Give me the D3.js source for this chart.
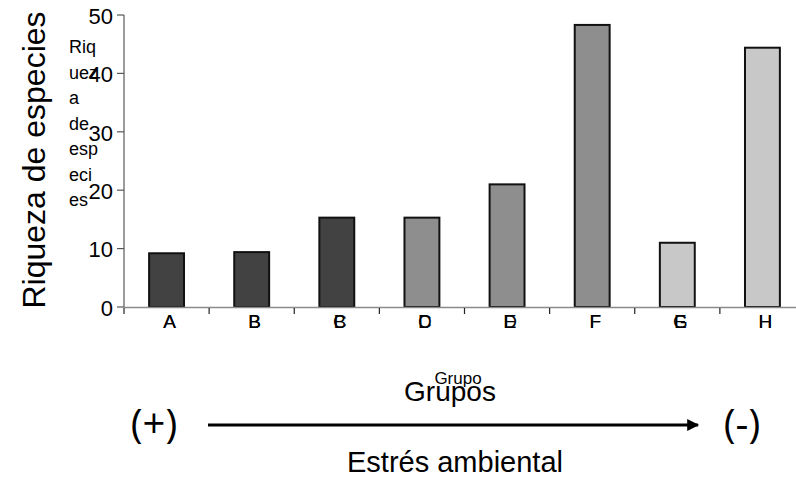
<!DOCTYPE html>
<html>
<head>
<meta charset="utf-8">
<script src="https://cdn.jsdelivr.net/npm/d3@7"></script>
<style>
  body { margin: 0; background: #fff; }
  svg { display: block; font-family: "Liberation Sans", Arial, sans-serif; }
</style>
</head>
<body>
<svg width="796" height="478"></svg>
<script>
var grupos = ["A", "B", "C", "D", "E", "F", "G", "H"];
// etiquetas viejas que quedaron encimadas en la figura original
var gruposViejos = ["A", "B", "B", "C", "D", "F", "E", "H"];
var riqueza = [9.2, 9.4, 15.3, 15.3, 21.0, 48.3, 11.0, 44.4];
var tono = ["#424242", "#424242", "#424242", "#8e8e8e", "#8e8e8e", "#8e8e8e", "#c8c8c8", "#c8c8c8"];
var yTicks = [0, 10, 20, 30, 40, 50];
var yLabelCorto = ["Riq", "uez", "a", "de", "esp", "eci", "es"];

var svg = d3.select("svg");

var x = d3.scaleBand()
    .domain(grupos)
    .range([124, 805])
    .paddingInner(0.59)
    .paddingOuter(0.295);

var y = d3.scaleLinear()
    .domain([0, 50])
    .range([307, 15]);

// eje y
svg.append("line")
    .attr("x1", 124).attr("x2", 124)
    .attr("y1", y(50)).attr("y2", y(0))
    .style("stroke", "#7a7a7a").style("stroke-width", 1.5);

svg.selectAll(".ytick")
    .data(yTicks)
    .enter()
    .append("line")
    .attr("class", "ytick")
    .attr("x1", 117).attr("x2", 124)
    .attr("y1", function(d) { return y(d); })
    .attr("y2", function(d) { return y(d); })
    .style("stroke", "#555").style("stroke-width", 1.2);

svg.selectAll(".ylab")
    .data(yTicks)
    .enter()
    .append("text")
    .attr("class", "ylab")
    .attr("x", 113)
    .attr("y", function(d) { return y(d); })
    .attr("dy", "0.4em")
    .attr("text-anchor", "end")
    .style("font-size", "22px")
    .text(function(d) { return d; });

// barras
svg.selectAll(".bar")
    .data(grupos)
    .enter()
    .append("rect")
    .attr("class", "bar")
    .attr("x", function(d) { return x(d); })
    .attr("width", x.bandwidth())
    .attr("y", function(d, i) { return y(riqueza[i]); })
    .attr("height", function(d, i) { return y(0) - y(riqueza[i]); })
    .style("fill", function(d, i) { return tono[i]; })
    .style("stroke", "#111")
    .style("stroke-width", 2);

// eje x
svg.append("line")
    .attr("x1", 124).attr("x2", 796)
    .attr("y1", 307.5).attr("y2", 307.5)
    .style("stroke", "#8a8a8a").style("stroke-width", 1.5);

var step = x.step();
var cortes = d3.range(0, grupos.length).map(function(i) { return 124 + i * step; });
svg.selectAll(".xtick")
    .data(cortes)
    .enter()
    .append("line")
    .attr("class", "xtick")
    .attr("x1", function(d) { return d; })
    .attr("x2", function(d) { return d; })
    .attr("y1", 308).attr("y2", 314)
    .style("stroke", "#222").style("stroke-width", 1.2);

svg.selectAll(".xlab2")
    .data(gruposViejos)
    .enter()
    .append("text")
    .attr("class", "xlab2")
    .attr("x", function(d, i) { return x(grupos[i]) + x.bandwidth() / 2 + 3; })
    .attr("y", 328)
    .attr("text-anchor", "middle")
    .style("font-size", "19px")
    .text(function(d) { return d; });

svg.selectAll(".xlab")
    .data(grupos)
    .enter()
    .append("text")
    .attr("class", "xlab")
    .attr("x", function(d) { return x(d) + x.bandwidth() / 2 + 3; })
    .attr("y", 328)
    .attr("text-anchor", "middle")
    .style("font-size", "19px")
    .text(function(d) { return d; });

// titulos
svg.append("text")
    .attr("transform", "translate(45,160) rotate(-90)")
    .attr("text-anchor", "middle")
    .style("font-size", "32px")
    .text("Riqueza de especies");

svg.selectAll(".ycorto")
    .data(yLabelCorto)
    .enter()
    .append("text")
    .attr("class", "ycorto")
    .attr("x", 69)
    .attr("y", function(d, i) { return 53 + i * 25.5; })
    .style("font-size", "18px")
    .text(function(d) { return d; });

svg.append("text")
    .attr("x", 458).attr("y", 384)
    .attr("text-anchor", "middle")
    .style("font-size", "17px")
    .text("Grupo");

svg.append("text")
    .attr("x", 450).attr("y", 401)
    .attr("text-anchor", "middle")
    .style("font-size", "28px")
    .text("Grupos");

// flecha de estres
svg.append("defs").append("marker")
    .attr("id", "punta")
    .attr("viewBox", "0 0 10 10")
    .attr("refX", 9).attr("refY", 5)
    .attr("markerWidth", 5).attr("markerHeight", 4)
    .attr("markerUnits", "strokeWidth")
    .attr("orient", "auto")
    .append("path")
    .attr("d", "M0,0 L10,5 L0,10 z")
    .style("fill", "#000");

svg.append("line")
    .attr("x1", 208).attr("x2", 698)
    .attr("y1", 425).attr("y2", 425)
    .style("stroke", "#000").style("stroke-width", 3)
    .attr("marker-end", "url(#punta)");

svg.append("text")
    .attr("x", 154).attr("y", 438)
    .attr("text-anchor", "middle")
    .style("font-family", "'Open Sans', 'DejaVu Sans', sans-serif")
    .style("font-size", "40px")
    .text("(+)");

svg.append("text")
    .attr("x", 742).attr("y", 438)
    .attr("text-anchor", "middle")
    .style("font-family", "'Open Sans', 'DejaVu Sans', sans-serif")
    .style("font-size", "40px")
    .text("(-)");

svg.append("text")
    .attr("x", 455).attr("y", 472)
    .attr("text-anchor", "middle")
    .style("font-size", "29px")
    .text("Estrés ambiental");
</script>
</body>
</html>
